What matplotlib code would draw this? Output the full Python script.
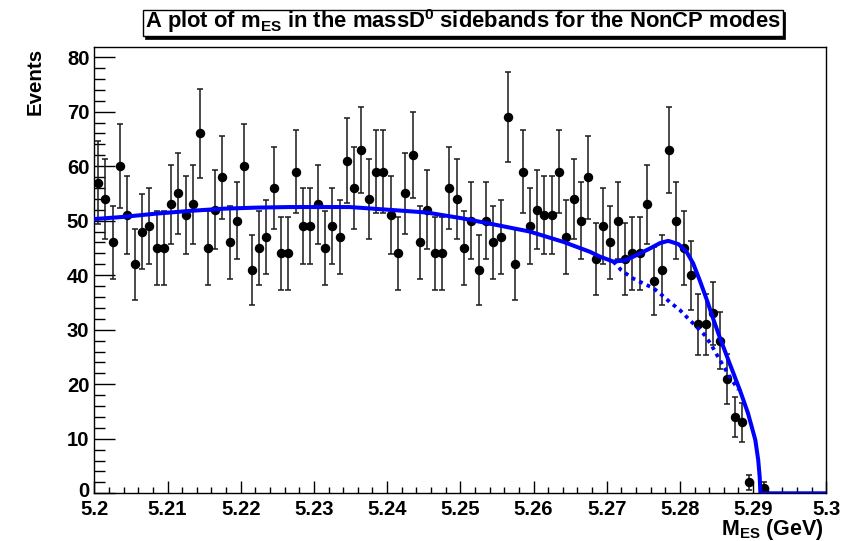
import numpy as np
import matplotlib
matplotlib.use("Agg")
import matplotlib.pyplot as plt
from matplotlib.patches import Rectangle
from matplotlib.transforms import ScaledTranslation

plt.rcParams['font.family'] = ['Liberation Sans', 'DejaVu Sans']
plt.rcParams['font.weight'] = 'bold'
plt.rcParams['mathtext.fontset'] = 'custom'
plt.rcParams['mathtext.rm'] = 'Liberation Sans:bold'
plt.rcParams['mathtext.it'] = 'Liberation Sans:bold'
plt.rcParams['mathtext.bf'] = 'Liberation Sans:bold'
plt.rcParams['mathtext.sf'] = 'Liberation Sans:bold'

# ---- data ----
x_low = 5.2
bin_width = 0.001
counts = [57, 54, 46, 60, 51, 42, 48, 49, 45, 45,
          53, 55, 51, 53, 66, 45, 52, 58, 46, 50,
          60, 41, 45, 47, 56, 44, 44, 59, 49, 49,
          53, 45, 49, 47, 61, 56, 63, 54, 59, 59,
          51, 44, 55, 62, 46, 52, 44, 44, 56, 54,
          45, 50, 41, 50, 46, 47, 69, 42, 59, 49,
          52, 51, 51, 59, 47, 54, 50, 58, 43, 49,
          46, 50, 43, 44, 44, 53, 39, 41, 63, 50,
          45, 40, 31, 31, 33, 28, 21, 14, 13, 2,
          0, 1]

fit_x = [5.2000, 5.2040, 5.2085, 5.2131, 5.2176, 5.2222, 5.2267, 5.2321, 5.2349,
         5.2413, 5.2454, 5.2504, 5.2550, 5.2595, 5.2641, 5.2677, 5.2691, 5.2709,
         5.2725, 5.2741, 5.2759, 5.2773, 5.2784, 5.2798, 5.2809, 5.2818, 5.2827,
         5.2837, 5.2846, 5.2855, 5.2868, 5.2882, 5.2893, 5.2903, 5.2907, 5.2909,
         5.2910, 5.3000]
fit_y = [50.3, 50.7, 51.3, 51.8, 52.2, 52.4, 52.5, 52.5, 52.5,
         51.9, 51.5, 50.4, 49.2, 48.0, 46.1, 44.3, 43.4, 42.5,
         42.7, 43.7, 44.9, 45.9, 46.3, 45.7, 44.3, 42.2, 39.1,
         35.4, 31.8, 28.4, 23.8, 18.9, 14.7, 9.8, 6.1, 3.0,
         0.0, 0.0]

bkg_x = [5.2709, 5.2720, 5.2736, 5.2750, 5.2764, 5.2775, 5.2786, 5.2800,
         5.2811, 5.2823, 5.2834, 5.2843, 5.2853, 5.2868, 5.2880]
bkg_y = [42.5, 40.9, 39.4, 38.5, 37.6, 36.4, 35.1, 33.6,
         32.1, 30.5, 29.0, 27.2, 24.8, 21.4, 19.0]

xtick_vals = [5.2, 5.21, 5.22, 5.23, 5.24, 5.25, 5.26, 5.27, 5.28, 5.29, 5.3]
xtick_labels = ['5.2', '5.21', '5.22', '5.23', '5.24', '5.25', '5.26', '5.27', '5.28', '5.29', '5.3']
ytick_vals = [0, 10, 20, 30, 40, 50, 60, 70, 80]

title = r"A plot of m$_{ES}$ in the massD$^{0}$ sidebands for the NonCP modes"

# ---- figure ----
W, H = 859, 541
fig = plt.figure(figsize=(W / 100, H / 100), dpi=100)
fig.patch.set_facecolor('white')
L, R, B, T = 94.3, 826.3, 493.3, 47.3
ax = fig.add_axes([L / W, 1 - B / H, (R - L) / W, (B - T) / H])

counts_arr = np.array(counts, dtype=float)
centers = x_low + bin_width * (np.arange(len(counts)) + 0.5)
mask = counts_arr > 0
ax.errorbar(centers[mask], counts_arr[mask], yerr=np.sqrt(counts_arr[mask]),
            fmt='o', color='black', ms=5.8, ecolor='#1a1a1a', elinewidth=1.1,
            capsize=2.2, capthick=1.1, zorder=3)

ax.plot(bkg_x, bkg_y, color='#0000ff', lw=2.7, linestyle=(0, (1.0, 1.2)),
        solid_capstyle='butt', zorder=4)
ax.plot(fit_x, fit_y, color='#0000ff', lw=2.9, zorder=5, clip_on=True)

ax.set_xlim(5.2, 5.3)
ax.set_ylim(0, 81.8)
ax.set_xticks(xtick_vals)
ax.set_xticklabels(xtick_labels)
ax.set_xticks(np.arange(5.2, 5.3001, 0.002), minor=True)
ax.set_yticks(ytick_vals)
ax.set_yticks(np.arange(0, 81, 2), minor=True)

ax.tick_params(axis='x', which='major', direction='in', length=9, width=1.0,
               labelsize=14.6, pad=4.5, top=False)
ax.tick_params(axis='x', which='minor', direction='in', length=4.6, width=1.0, top=False)
ax.tick_params(axis='y', which='major', direction='in', length=15, width=1.0,
               labelsize=14.6, pad=3.5, right=False)
ax.tick_params(axis='y', which='minor', direction='in', length=7.8, width=1.0, right=False)
for lab in ax.get_xticklabels() + ax.get_yticklabels():
    lab.set_fontweight('bold')
for s in ax.spines.values():
    s.set_linewidth(1.0)

# lift the "0" label slightly like the reference
ylabs = ax.get_yticklabels()
ylabs[0].set_transform(ylabs[0].get_transform() + ScaledTranslation(0, 4 / 100, fig.dpi_scale_trans))

# axis titles
fig.text(824 / W, 1 - 535 / H, r"M$_{ES}$ (GeV)", ha='right', va='baseline',
         fontsize=15.5, fontweight='bold')
fig.text(35 / W, 1 - 48 / H, "Events", ha='center', va='top', rotation=90,
         fontsize=14.8, fontweight='bold')

# title box with shadow
bx0, bx1, by0, by1 = 142.7, 782.7, 10, 36
fig.patches.append(Rectangle((bx0 / W + 2.5 / W, 1 - (by1 + 2.5) / H), (bx1 - bx0) / W,
                             (by1 - by0) / H, transform=fig.transFigure,
                             facecolor='black', edgecolor='black', lw=0.5, zorder=1))
fig.patches.append(Rectangle((bx0 / W, 1 - by1 / H), (bx1 - bx0) / W, (by1 - by0) / H,
                             transform=fig.transFigure, facecolor='white',
                             edgecolor='black', lw=1.0, zorder=2))
fig.text((bx0 + bx1) / 2 / W, 1 - 28 / H, title, ha='center', va='baseline',
         fontsize=15.8, fontweight='bold', zorder=3)

fig.savefig("out.png", dpi=100)
